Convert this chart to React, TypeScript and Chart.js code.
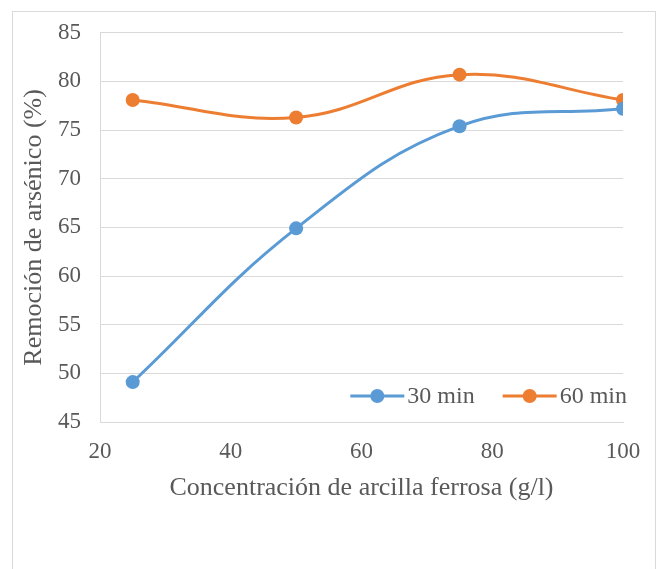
import React, { useEffect, useRef } from "react";
import { Chart, registerables } from "chart.js";

Chart.register(...registerables);

const concentrations = [25, 50, 75, 100];
const removal30 = [49.1, 64.9, 75.4, 77.2];
const removal60 = [78.1, 76.3, 80.7, 78.1];
const seriesLabels = ["30 min", "60 min"];
const seriesColors = ["#5B9BD5", "#ED7D31"];
const xTitle = "Concentración de arcilla ferrosa (g/l)";
const yTitle = "Remoción de arsénico (%)";

const FONT = "'Liberation Serif', 'Times New Roman', serif";

const insideLegend = {
  id: "insideLegend",
  afterDatasetsDraw(chart: any) {
    const { ctx, chartArea } = chart;
    const y = chartArea.bottom - 26;
    ctx.save();
    ctx.font = `24px ${FONT}`;
    ctx.textBaseline = "middle";
    ctx.textAlign = "left";
    const items = chart.data.datasets.map((d: any) => ({
      label: d.label,
      color: d.borderColor,
      w: ctx.measureText(d.label).width,
    }));
    const lineW = 54;
    const gap = 3;
    const itemGap = 28;
    let total = 0;
    items.forEach((it: any, i: number) => {
      total += lineW + gap + it.w + (i < items.length - 1 ? itemGap : 0);
    });
    let x = chartArea.right + 4 - total;
    items.forEach((it: any) => {
      ctx.strokeStyle = it.color;
      ctx.lineWidth = 3;
      ctx.beginPath();
      ctx.moveTo(x, y);
      ctx.lineTo(x + lineW, y);
      ctx.stroke();
      ctx.fillStyle = it.color;
      ctx.beginPath();
      ctx.arc(x + lineW / 2, y, 7, 0, Math.PI * 2);
      ctx.fill();
      ctx.fillStyle = "#595959";
      ctx.fillText(it.label, x + lineW + gap, y + 1);
      x += lineW + gap + it.w + itemGap;
    });
    ctx.restore();
  },
};

export default function App() {
  const ref = useRef<HTMLCanvasElement | null>(null);
  useEffect(() => {
    if (!ref.current) return;
    const mk = (i: number, ys: number[]) => ({
      label: seriesLabels[i],
      data: concentrations.map((x, k) => ({ x, y: ys[k] })),
      borderColor: seriesColors[i],
      backgroundColor: seriesColors[i],
      borderWidth: 3,
      pointRadius: 7,
      pointHoverRadius: 7,
      pointBorderWidth: 0,
      tension: 0.4,
    });
    const chart = new Chart(ref.current, {
      type: "line",
      data: { datasets: [mk(0, removal30), mk(1, removal60)] },
      options: {
        animation: false,
        responsive: false,
        maintainAspectRatio: false,
        layout: { padding: { top: 32, right: 36, left: 0, bottom: 57 } },
        plugins: { legend: { display: false }, tooltip: { enabled: false } },
        scales: {
          x: {
            type: "linear",
            min: 20,
            max: 100,
            ticks: {
              stepSize: 20,
              color: "#595959",
              font: { family: FONT, size: 23 },
              padding: 16,
            },
            grid: { display: false, drawTicks: false },
            border: { display: true, color: "#d9d9d9", width: 1 },
            title: {
              display: true,
              text: xTitle,
              color: "#595959",
              font: { family: FONT, size: 26 },
              padding: { top: 0, bottom: 8 },
            },
            afterFit(scale: any) {
              scale.height = 90;
            },
          },
          y: {
            min: 45,
            max: 85,
            ticks: {
              stepSize: 5,
              color: "#595959",
              font: { family: FONT, size: 23 },
              padding: 19,
            },
            grid: { color: "#d9d9d9", lineWidth: 1, drawTicks: false },
            border: { display: true, color: "#d9d9d9", width: 1 },
            title: {
              display: true,
              text: yTitle,
              color: "#595959",
              font: { family: FONT, size: 26 },
              padding: { top: 19, bottom: 0 },
            },
            afterFit(scale: any) {
              scale.width = 100;
            },
          },
        },
      },
      plugins: [insideLegend],
    } as any);
    return () => chart.destroy();
  }, []);

  return (
    <div style={{ position: "absolute", left: 0, top: 0, width: 659, height: 569, background: "#fff" }}>
      <div
        style={{
          position: "absolute",
          left: 12,
          top: 11,
          width: 644,
          height: 570,
          border: "1px solid #d9d9d9",
          borderBottom: "none",
          boxSizing: "border-box",
        }}
      />
      <canvas ref={ref} width={659} height={569} style={{ position: "absolute", left: 0, top: 0, width: 659, height: 569 }} />
    </div>
  );
}
